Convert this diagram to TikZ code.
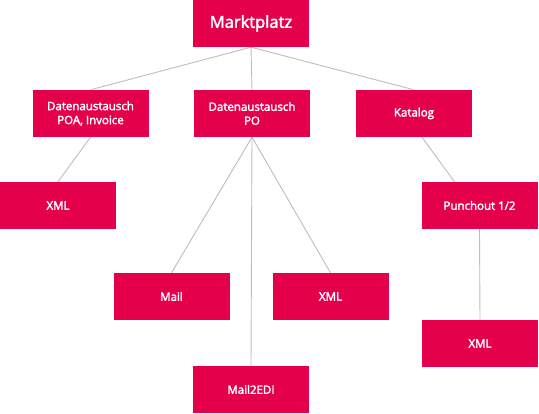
\documentclass[tikz,border=0pt]{standalone}
\usepackage{fontspec}
\setmainfont{Open Sans}
\newfontfamily\lbl{Open Sans}[RawFeature={embolden=2.6}]
\definecolor{boxred}{HTML}{E4004B}
\definecolor{linegray}{HTML}{BDBDBD}
\begin{document}
\begin{tikzpicture}[x=1pt,y=-1pt,
  box/.style={fill=boxred, draw=none, minimum width=116pt, minimum height=47pt,
    inner sep=0pt, text=white, align=center, font=\lbl\fontsize{11.5}{14}\selectfont},
  big/.style={box, font=\lbl\fontsize{16.5}{20}\selectfont},
  link/.style={draw=linegray, line width=0.9pt}]
\useasboundingbox (0,0) rectangle (539,414);
\node[big] (mp) at (251,23.5) {Marktplatz};
\node[box] (poa) at (90.5,113.5) {Datenaustausch\\POA, Invoice};
\node[box] (po) at (252,113.5) {Datenaustausch\\PO};
\node[box] (kat) at (414,113.5) {Katalog};
\node[box] (x1) at (58,205.5) {XML};
\node[box] (pun) at (479.5,205.5) {Punchout 1/2};
\node[box] (mail) at (171.5,296.5) {Mail};
\node[box] (x2) at (330.5,296.5) {XML};
\node[box] (edi) at (251,389.5) {Mail2EDI};
\node[box] (x3) at (480,343.5) {XML};
\draw[link] (mp.south) -- (poa.north);
\draw[link] (mp.south) -- (po.north);
\draw[link] (mp.south) -- (kat.north);
\draw[link] (poa.south) -- (x1.north);
\draw[link] (po.south) -- (mail.north);
\draw[link] (po.south) -- (edi.north);
\draw[link] (po.south) -- (x2.north);
\draw[link] ([xshift=8pt]kat.south) -- ([xshift=-25pt]pun.north);
\draw[link] (pun.south) -- (x3.north);
\end{tikzpicture}
\end{document}
